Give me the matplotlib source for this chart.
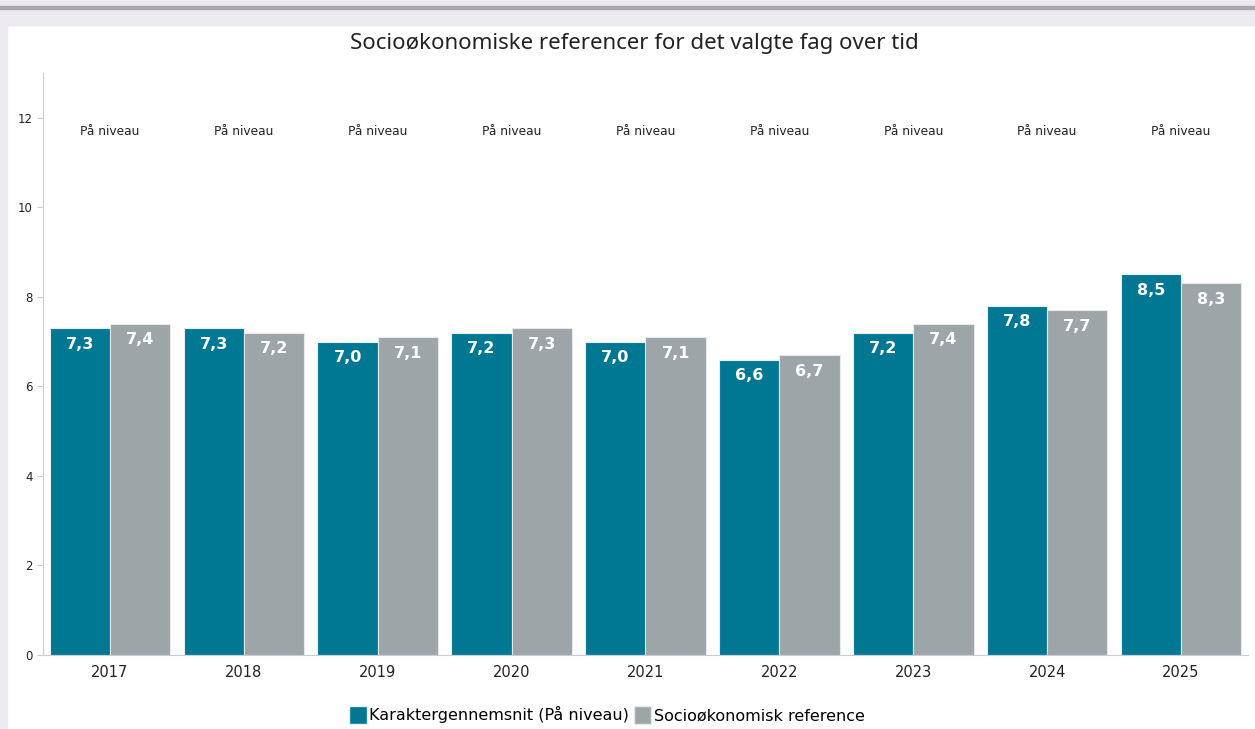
import matplotlib
matplotlib.use("Agg")
import matplotlib.pyplot as plt
from matplotlib.patches import Patch, Rectangle
import numpy as np

plt.rcParams["font.family"] = ["DejaVu Sans"]

# --- Data ---
years = ["2017", "2018", "2019", "2020", "2021", "2022", "2023", "2024", "2025"]
grade_avg = [7.3, 7.3, 7.0, 7.2, 7.0, 6.6, 7.2, 7.8, 8.5]
socio_ref = [7.4, 7.2, 7.1, 7.3, 7.1, 6.7, 7.4, 7.7, 8.3]
status = ["På niveau"] * 9

TEAL = "#007894"
GRAY = "#9ea5a8"
AXIS_COLOR = "#c8ccd6"

fig = plt.figure(figsize=(12.55, 7.29), dpi=100)

# browser-ish frame around the chart
fig.patches.append(Rectangle((0, 1 - 25 / 729), 1, 25 / 729, transform=fig.transFigure,
                             color="#ede9f1", zorder=0))
fig.patches.append(Rectangle((0, 1 - 9 / 729), 1, 3 / 729, transform=fig.transFigure,
                             color="#a9a9ad", zorder=1))
fig.patches.append(Rectangle((0, 0), 7 / 1255, 1, transform=fig.transFigure,
                             color="#ede9f1", zorder=0))

ax = fig.add_axes([43 / 1255, 1 - 655 / 729, (1248 - 43) / 1255, (655 - 73) / 729])

x = np.arange(len(years))
w = 0.45
b1 = ax.bar(x - w / 2, grade_avg, w, color=TEAL, edgecolor="#e6eef0", linewidth=0.8,
            label="Karaktergennemsnit (På niveau)")
b2 = ax.bar(x + w / 2, socio_ref, w, color=GRAY, edgecolor="#e6e8ea", linewidth=0.8,
            label="Socioøkonomisk reference")

# value labels inside bar tops
for bars, vals in ((b1, grade_avg), (b2, socio_ref)):
    for rect, v in zip(bars, vals):
        ax.annotate(f"{v:.1f}".replace(".", ","),
                    (rect.get_x() + rect.get_width() / 2, v),
                    xytext=(0, -11.5), textcoords="offset points",
                    ha="center", va="center", color="white",
                    fontsize=11.5, fontweight="semibold")

for xi, s in zip(x, status):
    ax.text(xi, 11.7, s, ha="center", va="center", fontsize=8.8, color="#222222")

ax.set_xlim(-0.5, len(years) - 0.5)
ax.set_ylim(0, 13)
ax.set_yticks([0, 2, 4, 6, 8, 10, 12])
ax.set_xticks(x)
ax.set_xticklabels(years, fontsize=10.5, color="#222222")
ax.tick_params(axis="y", labelsize=8.5, colors="#222222", length=4, color=AXIS_COLOR)
ax.tick_params(axis="x", length=0, pad=7)

for side in ("top", "right"):
    ax.spines[side].set_visible(False)
ax.spines["left"].set_color(AXIS_COLOR)
ax.spines["bottom"].set_color(AXIS_COLOR)

fig.text(634 / 1255, 1 - 43 / 729, "Socioøkonomiske referencer for det valgte fag over tid",
         ha="center", va="center", fontsize=16, family="Noto Sans", color="#222222")

handles = [Patch(facecolor=TEAL, edgecolor="#e6eef0"), Patch(facecolor=GRAY, edgecolor="#e6e8ea")]
fig.legend(handles, ["Karaktergennemsnit (På niveau)", "Socioøkonomisk reference"],
           loc="center", bbox_to_anchor=(607 / 1255, 1 - 715 / 729), ncol=2, frameon=False,
           fontsize=11.5, handlelength=1.1, handleheight=1.4, handletextpad=0.15,
           columnspacing=0.3)

fig.savefig("out.png", dpi=100)
